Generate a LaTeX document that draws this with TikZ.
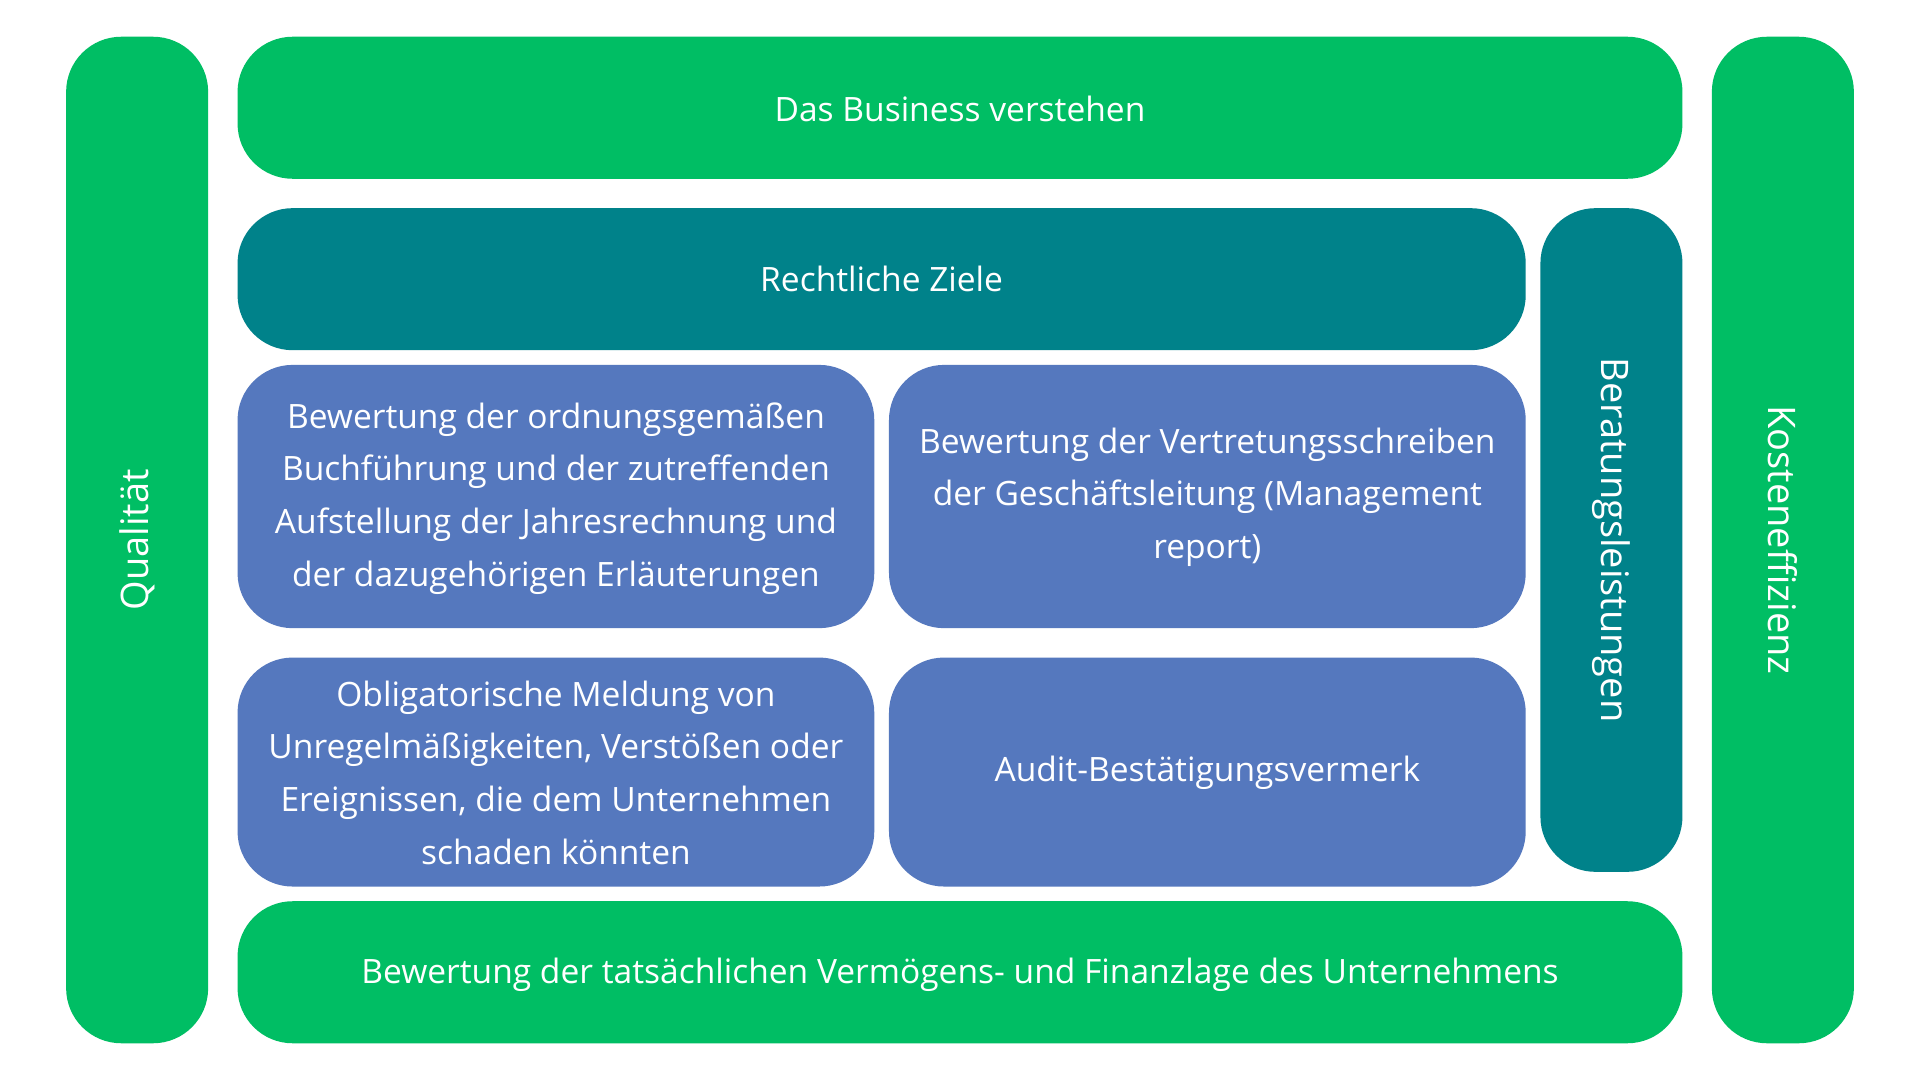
\documentclass[tikz,border=0pt]{standalone}
\usepackage{fontspec}
\setmainfont{Open Sans}
\definecolor{grn}{HTML}{00BE64}
\definecolor{teal2}{HTML}{00828A}
\definecolor{blu}{HTML}{5578BE}
\begin{document}
\begin{tikzpicture}[x=1pt,y=-1pt,
  box/.style={rounded corners=45pt,draw=none},
  lbl/.style={text=white,font=\fontsize{27.4}{43}\selectfont,align=center},
  vlbl/.style={text=white,font=\fontsize{31}{43}\selectfont}]
\useasboundingbox[fill=white] (0,0) rectangle (1568,882);
\fill[box,grn] (54,30) rectangle (170,852);
\fill[box,grn] (1398,30) rectangle (1514,852);
\fill[box,grn] (194,30) rectangle (1374,146);
\fill[box,teal2] (194,170) rectangle (1246,286);
\fill[box,teal2] (1258,170) rectangle (1374,712);
\fill[box,blu] (194,298) rectangle (714,513);
\fill[box,blu] (726,298) rectangle (1246,513);
\fill[box,blu] (194,537) rectangle (714,724);
\fill[box,blu] (726,537) rectangle (1246,724);
\fill[box,grn] (194,736) rectangle (1374,852);
\node[vlbl,rotate=90] (q) at (112,441) {Qualität};
\node[vlbl,rotate=-90] (k) at (1456,441) {Kosteneffizienz};
\node[lbl] (b) at (784,89) {Das Business verstehen};
\node[lbl] (r) at (720,228) {Rechtliche Ziele};
\node[vlbl,rotate=-90] (be) at (1316,441) {Beratungsleistungen};
\node[lbl] (n1) at (454,407) {Bewertung der ordnungsgemäßen\\Buchführung und der zutreffenden\\Aufstellung der Jahresrechnung und\\der dazugehörigen Erläuterungen};
\node[lbl] (n2) at (986,406) {Bewertung der Vertretungsschreiben\\der Geschäftsleitung (Management\\report)};
\node[lbl] (n3) at (454,631) {Obligatorische Meldung von\\Unregelmäßigkeiten, Verstößen oder\\Ereignissen, die dem Unternehmen\\schaden könnten};
\node[lbl] (n4) at (986,631) {Audit-Bestätigungsvermerk};
\node[lbl] (f) at (784,796) {Bewertung der tatsächlichen Vermögens- und Finanzlage des Unternehmens};
\end{tikzpicture}
\end{document}
